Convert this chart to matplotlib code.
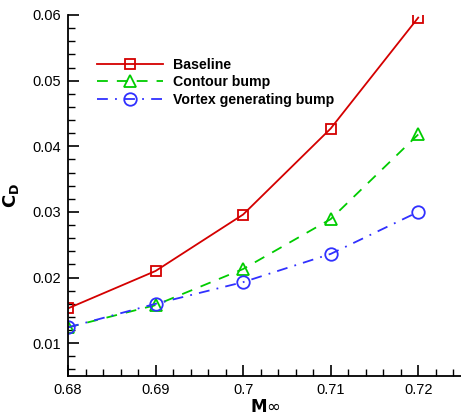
import matplotlib
matplotlib.use('Agg')
import matplotlib.pyplot as plt
from matplotlib.ticker import MultipleLocator

plt.rcParams['font.family'] = ['Liberation Sans', 'DejaVu Sans']

# data
mach = [0.68, 0.69, 0.70, 0.71, 0.72]
cd_baseline = [0.0153, 0.0210, 0.0296, 0.0427, 0.0596]
cd_contour = [0.0124, 0.0158, 0.0213, 0.0289, 0.0418]
cd_vortex = [0.0124, 0.0160, 0.0193, 0.0236, 0.0300]

fig = plt.figure(figsize=(4.61, 4.15), dpi=100)
ax = fig.add_axes([68/461, 39/415, 394/461, 361/415])

ax.plot(mach, cd_baseline, color='#d40000', lw=1.3, ls='-',
        marker='s', ms=7.5, mfc='none', mec='#d40000', mew=1.3, label='Baseline')
ax.plot(mach, cd_contour, color='#00cc00', lw=1.3, ls=(0, (6, 5)),
        marker='^', ms=8, mfc='none', mec='#00cc00', mew=1.3, label='Contour bump')
ax.plot(mach, cd_vortex, color='#3030ff', lw=1.3, ls=(0, (6, 4, 1, 4)),
        marker='o', ms=9, mfc='none', mec='#3030ff', mew=1.3, label='Vortex generating bump')

ax.set_xlim(0.68, 0.725)
ax.set_ylim(0.005, 0.06)
ax.xaxis.set_major_locator(MultipleLocator(0.01))
ax.xaxis.set_minor_locator(MultipleLocator(0.002))
ax.yaxis.set_major_locator(MultipleLocator(0.01))
ax.yaxis.set_minor_locator(MultipleLocator(0.002))
ax.set_xticks([0.68, 0.69, 0.70, 0.71, 0.72])
ax.set_xticklabels(['0.68', '0.69', '0.7', '0.71', '0.72'])
ax.set_yticks([0.01, 0.02, 0.03, 0.04, 0.05, 0.06])
ax.set_yticklabels(['0.01', '0.02', '0.03', '0.04', '0.05', '0.06'])

ax.tick_params(which='major', direction='in', length=8, width=1.2, labelsize=10.5, pad=5)
ax.tick_params(which='minor', direction='in', length=5, width=1.0)
ax.spines['top'].set_visible(False)
ax.spines['right'].set_visible(False)
ax.spines['left'].set_linewidth(1.3)
ax.spines['bottom'].set_linewidth(1.3)

ax.set_xlabel(r'$\mathbf{M}$$\infty$', fontsize=12)
ax.set_ylabel(r'$\mathbf{C}_{\mathbf{D}}$', fontsize=13)
ax.xaxis.set_label_coords(0.5, -0.062)
ax.yaxis.set_label_coords(-0.12, 0.5)

ax.legend(loc='upper left', bbox_to_anchor=(0.041, 0.917), frameon=False,
          handlelength=4.66, handletextpad=0.7, labelspacing=0.25,
          prop={'weight': 'bold', 'size': 10.2})

fig.savefig('out.png', dpi=100)
